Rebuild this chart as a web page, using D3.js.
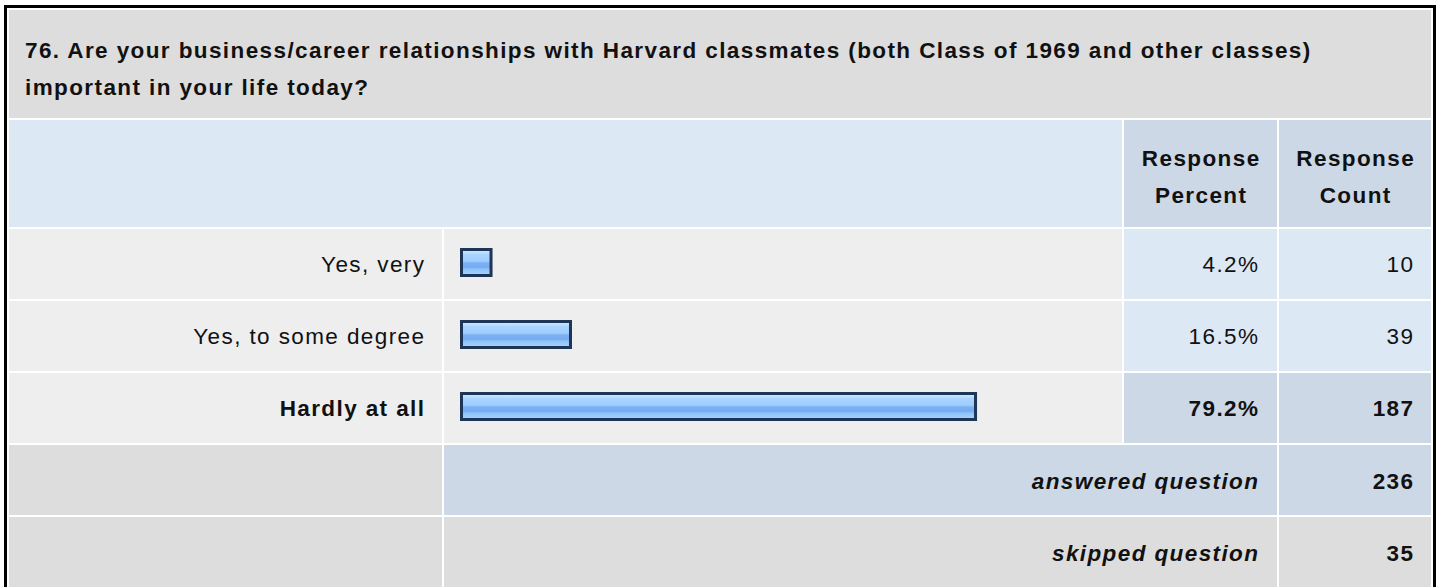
<!DOCTYPE html>
<html>
<head>
<meta charset="utf-8">
<script src="https://cdn.jsdelivr.net/npm/d3@7"></script>
<style>
  html, body { margin: 0; padding: 0; background: #ffffff; }
  svg { display: block; }
  text { font-family: "Liberation Sans", Arial, Helvetica, sans-serif; font-size: 22.5px; fill: #111; letter-spacing: 1.4px; }
</style>
</head>
<body>
<svg id="chart" width="1440" height="587"></svg>
<script>
// ---------- data ----------
const titleLines = [
  "76. Are your business/career relationships with Harvard classmates (both Class of 1969 and other classes)",
  "important in your life today?"
];
const categories = ["Yes, very", "Yes, to some degree", "Hardly at all"];
const percents = [4.2, 16.5, 79.2];
const counts = [10, 39, 187];
const headerPercent = ["Response", "Percent"];
const headerCount = ["Response", "Count"];
const summaryLabels = ["answered question", "skipped question"];
const summaryValues = [236, 35];

// ---------- layout ----------
const W = 1440, H = 587;
const L = 9, R = 1431;
const colLabelEnd = 442, colBarStart = 444, colBarEnd = 1122;
const colPctStart = 1124, colPctEnd = 1277, colCntStart = 1279, colCntEnd = 1431;
const titleTop = 10, titleBottom = 118;
const headTop = 120, headBottom = 227;
const rowsTop = 229, rowsBottom = 443;
const sumTop = 445, rowH = 70, gap = 2;
const LS = 1.4;

const C = {
  gray: "#dddddd", rowBg: "#eeeeee", lightBlue: "#dde8f5", darkBlue: "#ccd8e6",
  border: "#000000", barStroke: "#1d3557"
};

const svg = d3.select("#chart");
svg.append("rect").attr("width", W).attr("height", H).attr("fill", "#fff");

// gradient for bars
const defs = svg.append("defs");
const grad = defs.append("linearGradient").attr("id", "barGrad")
  .attr("x1", 0).attr("y1", 0).attr("x2", 0).attr("y2", 1);
[
  [0, "#d8ecff"], [0.1, "#c2e2ff"], [0.2, "#a9d4ff"], [0.45, "#9ecdfd"],
  [0.52, "#7cb2f3"], [0.68, "#74abf0"], [0.76, "#90c3fa"], [1, "#a8d5ff"]
].forEach(([o, c]) => grad.append("stop").attr("offset", o).attr("stop-color", c));

const maxIdx = d3.maxIndex(percents);

// scales
const y = d3.scaleBand().domain(categories).range([rowsTop, rowsBottom])
  .paddingInner(gap / (rowH + gap)).paddingOuter(0);
const x = d3.scaleLinear().domain([0, 100]).range([0, 646]);
const barX0 = 460;

function cell(x0, y0, x1, y1, fill) {
  svg.append("rect").attr("x", x0).attr("y", y0).attr("width", x1 - x0).attr("height", y1 - y0).attr("fill", fill);
}

// title
cell(L, titleTop, R, titleBottom, C.gray);
svg.selectAll("text.title").data(titleLines).join("text")
  .attr("class", "title").attr("x", 25).attr("y", (d, i) => 58 + i * 37)
  .attr("font-weight", "bold").text(d => d);

// header
cell(L, headTop, colBarEnd, headBottom, C.lightBlue);
cell(colPctStart, headTop, colPctEnd, headBottom, C.darkBlue);
cell(colCntStart, headTop, colCntEnd, headBottom, C.darkBlue);
[[headerPercent, (colPctStart + colPctEnd) / 2], [headerCount, (colCntStart + colCntEnd) / 2]].forEach(([lines, cx]) => {
  svg.append("g").selectAll("text").data(lines).join("text")
    .attr("x", cx + LS / 2).attr("y", (d, i) => 166 + i * 37)
    .attr("text-anchor", "middle").attr("font-weight", "bold").text(d => d);
});

// data rows
const rows = svg.append("g").selectAll("g").data(categories).join("g");
rows.each(function (d, i) {
  const g = d3.select(this);
  const top = y(d), bh = y.bandwidth();
  const hi = i === maxIdx;
  const bold = hi ? "bold" : "normal";
  const valFill = hi ? C.darkBlue : C.lightBlue;
  g.append("rect").attr("x", L).attr("y", top).attr("width", colLabelEnd - L).attr("height", bh).attr("fill", C.rowBg);
  g.append("rect").attr("x", colBarStart).attr("y", top).attr("width", colBarEnd - colBarStart).attr("height", bh).attr("fill", C.rowBg);
  g.append("rect").attr("x", colPctStart).attr("y", top).attr("width", colPctEnd - colPctStart).attr("height", bh).attr("fill", valFill);
  g.append("rect").attr("x", colCntStart).attr("y", top).attr("width", colCntEnd - colCntStart).attr("height", bh).attr("fill", valFill);
  const base = top + bh / 2 + 8;
  g.append("text").attr("x", colLabelEnd - 18 + LS).attr("y", base).attr("text-anchor", "end")
    .attr("font-weight", bold).text(d);
  // bar
  g.append("rect").attr("x", barX0 + 1.5).attr("y", top + 20.5)
    .attr("width", x(percents[i]) + 2.4).attr("height", 26)
    .attr("fill", "url(#barGrad)").attr("stroke", C.barStroke).attr("stroke-width", 3);
  g.append("text").attr("x", colPctEnd - 19 + LS).attr("y", base).attr("text-anchor", "end")
    .attr("font-weight", bold).text(percents[i].toFixed(1) + "%");
  g.append("text").attr("x", colCntEnd - 18 + LS).attr("y", base).attr("text-anchor", "end")
    .attr("font-weight", bold).text(counts[i]);
});

// summary rows
summaryLabels.forEach((lab, i) => {
  const top = sumTop + i * (rowH + gap), bot = top + rowH;
  const midFill = i === 0 ? C.darkBlue : C.gray;
  cell(L, top, colLabelEnd, bot, C.gray);
  cell(colBarStart, top, colPctEnd, bot, midFill);
  cell(colCntStart, top, colCntEnd, bot, midFill);
  const base = top + rowH / 2 + 9;
  svg.append("text").attr("x", colPctEnd - 19 + LS).attr("y", base).attr("text-anchor", "end")
    .attr("font-weight", "bold").attr("font-style", "italic").text(lab);
  svg.append("text").attr("x", colCntEnd - 18 + LS).attr("y", base).attr("text-anchor", "end")
    .attr("font-weight", "bold").text(summaryValues[i]);
});

// outer border
svg.append("rect").attr("x", 5.5).attr("y", 6.5).attr("width", 1434.5 - 5.5).attr("height", 700)
  .attr("fill", "none").attr("stroke", C.border).attr("stroke-width", 3);
</script>
</body>
</html>
